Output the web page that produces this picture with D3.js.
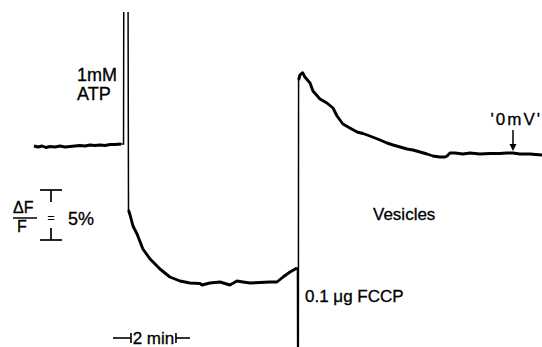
<!DOCTYPE html>
<html>
<head>
<meta charset="utf-8">
<script src="https://cdn.jsdelivr.net/npm/d3@7"></script>
<style>
  html, body { margin: 0; padding: 0; background: #fff; }
  svg { display: block; font-family: "Liberation Sans", Arial, sans-serif; }
</style>
</head>
<body>
<div id="chart"></div>
<script>
// time in min, fluorescence change dF/F in % (0 = '0 mV' level)
const preAtp = [
  [0.00, 0.8], [0.18, 0.7], [0.36, 0.8], [0.53, 0.65], [0.71, 0.75], [0.93, 0.7],
  [1.16, 0.8], [1.38, 0.7], [1.60, 0.75], [1.82, 0.8], [2.04, 0.85], [2.27, 0.8],
  [2.49, 0.9], [2.71, 0.85], [2.93, 0.9], [3.16, 0.85], [3.38, 0.95], [3.60, 0.95],
  [3.87, 1.0]
];
const afterAtp = [
  [4.20, -5.6], [4.27, -6.1], [4.40, -7.2], [4.58, -8.0], [4.84, -9.5], [5.16, -10.5],
  [5.60, -11.5], [6.04, -12.3], [6.49, -12.7], [6.93, -12.9], [7.38, -12.95], [7.47, -13.1],
  [7.82, -12.9], [8.27, -12.8], [8.71, -13.1], [9.02, -12.7], [9.29, -12.8], [9.60, -12.9],
  [10.04, -12.85], [10.49, -12.8], [10.80, -12.8], [11.07, -12.3], [11.38, -11.8], [11.69, -11.4]
];
const afterFccp = [
  [11.76, 7.4], [11.82, 7.9], [11.94, 8.13], [12.04, 7.7], [12.27, 7.1], [12.40, 6.3],
  [12.71, 5.5], [13.02, 5.1], [13.29, 4.6], [13.47, 3.8], [13.73, 3.0], [14.04, 2.6],
  [14.36, 2.2], [14.62, 2.05], [14.93, 1.8], [15.38, 1.4], [15.69, 1.1], [15.96, 0.9],
  [16.27, 0.7], [16.58, 0.5], [16.84, 0.4], [17.16, 0.2], [17.47, 0.0], [17.73, -0.2],
  [18.04, -0.3], [18.27, -0.3], [18.36, -0.2], [18.49, 0.1], [18.71, 0.1], [19.07, 0.0],
  [19.38, 0.1], [19.82, 0.0], [20.27, 0.05], [20.71, 0.05], [21.02, 0.1], [21.29, 0.1],
  [21.60, 0.0], [22.04, 0.0], [22.58, -0.1]
];
// fast (off-scale) excursions on additions
const atpJump = [[3.87, 1.0], [3.98, 1.0], [3.99, 16], [4.18, 16], [4.20, -5.6]];
const fccpJump = [[11.69, -11.4], [11.71, -11.4], [11.72, -22], [11.75, -22], [11.76, 7.4]];

const zeroMvTime = 21.29;
const fScaleBar = [-3.6, -8.6];   // 5 %
const timeScaleBar = [4.31, 6.31]; // 2 min

const width = 542, height = 347;

const x = d3.scaleLinear().domain([0, 22.58]).range([34, 542]);
const y = d3.scaleLinear().domain([-19.3, 14.2]).range([347, 12]);

const svg = d3.select('#chart').append('svg')
  .attr('width', width)
  .attr('height', height);

svg.append('defs').append('clipPath')
  .attr('id', 'plot-clip')
  .append('rect')
  .attr('x', 0).attr('y', y.range()[1])
  .attr('width', width).attr('height', height - y.range()[1]);

const line = d3.line().x(d => x(d[0])).y(d => y(d[1]));

const trace = svg.append('g').attr('clip-path', 'url(#plot-clip)');

[atpJump, fccpJump].forEach(seg => {
  trace.append('path')
    .attr('d', line(seg))
    .attr('fill', 'none')
    .attr('stroke', '#000')
    .attr('stroke-width', 1.5);
});

[preAtp, afterAtp, afterFccp].forEach(seg => {
  trace.append('path')
    .attr('d', line(seg))
    .attr('fill', 'none')
    .attr('stroke', '#000')
    .attr('stroke-width', 2.9)
    .attr('stroke-linejoin', 'round');
});

// labels
const label = (tx, ty, str, size, anchor) => svg.append('text')
  .attr('x', tx).attr('y', ty)
  .attr('font-size', size)
  .attr('text-anchor', anchor || 'start')
  .attr('fill', '#000')
  .attr('stroke', '#000')
  .attr('stroke-width', 0.3)
  .text(str);

label(77, 81, '1mM', 18);
label(77, 100, 'ATP', 18);
label(373, 220, 'Vesicles', 17);
label(305, 302, '0.1 μg FCCP', 17);
label(542, 125, "'0mV'", 17, 'end').attr('letter-spacing', 2);

// 0 mV arrow
const ax = x(zeroMvTime);
svg.append('line')
  .attr('x1', ax).attr('x2', ax)
  .attr('y1', 130).attr('y2', y(0.3) - 5)
  .attr('stroke', '#000').attr('stroke-width', 1.5);
svg.append('path')
  .attr('d', `M${ax - 3.5},${y(0.3) - 7}L${ax + 3.5},${y(0.3) - 7}L${ax},${y(0.3)}Z`)
  .attr('fill', '#000');

// dF/F scale bar
const sbx = 51;
const fTop = y(fScaleBar[0]), fBot = y(fScaleBar[1]);
const sb = svg.append('g').attr('stroke', '#000').attr('stroke-width', 1.7);
sb.append('line').attr('x1', sbx - 11).attr('x2', sbx + 11).attr('y1', fTop).attr('y2', fTop);
sb.append('line').attr('x1', sbx).attr('x2', sbx).attr('y1', fTop).attr('y2', fTop + 12);
sb.append('line').attr('x1', sbx - 11).attr('x2', sbx + 11).attr('y1', fBot).attr('y2', fBot);
sb.append('line').attr('x1', sbx).attr('x2', sbx).attr('y1', fBot - 12).attr('y2', fBot);
label(sbx, 222, '=', 12, 'middle');
label(13, 213, 'ΔF', 16);
svg.append('line').attr('x1', 13).attr('x2', 37).attr('y1', 218).attr('y2', 218)
  .attr('stroke', '#000').attr('stroke-width', 1.5);
label(17, 232, 'F', 16);
label(68, 225, '5%', 18);

// time scale bar
const t0 = x(timeScaleBar[0]), t1 = x(timeScaleBar[1]);
const tb = svg.append('g').attr('stroke', '#000').attr('stroke-width', 1.6);
tb.append('line').attr('x1', t0 - 18).attr('x2', t0).attr('y1', 338).attr('y2', 338);
tb.append('line').attr('x1', t0).attr('x2', t0).attr('y1', 333).attr('y2', 343);
tb.append('line').attr('x1', t1).attr('x2', t1 + 14).attr('y1', 338).attr('y2', 338);
tb.append('line').attr('x1', t1).attr('x2', t1).attr('y1', 333).attr('y2', 343);
label((t0 + t1) / 2, 344, '2 min', 17, 'middle');
</script>
</body>
</html>
